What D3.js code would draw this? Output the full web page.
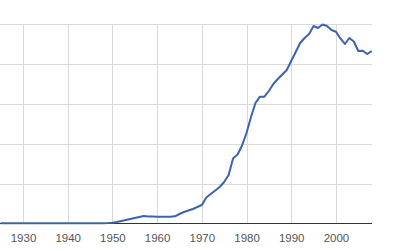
<!DOCTYPE html>
<html><head><meta charset="utf-8">
<script src="https://cdn.jsdelivr.net/npm/d3@7"></script>
<style>html,body{margin:0;padding:0;background:#fff;}svg{display:block;}</style>
</head><body>
<svg id="c" width="400" height="251"></svg>
<script>
const years = d3.range(1925, 2009);
const values = [
 0.004,0.004,0.004,0.004,0.004,0.004,0.004,0.004,0.004,0.004, // 1925-1934
 0.004,0.004,0.004,0.004,0.004,0.004,0.004,0.004,0.004,0.004, // 1935-1944
 0.004,0.005,0.006,0.008,0.012,                               // 1945-1949
 0.02,0.038,0.063,0.088,0.113,0.138,0.163,0.188,0.175,0.173,  // 1950-1959
 0.17,0.17,0.17,0.17,0.18,0.238,0.288,0.326,0.363,0.414,      // 1960-1969
 0.464,0.652,0.739,0.827,0.915,1.04,1.216,1.634,1.729,1.955,  // 1970-1979
 2.268,2.669,3.02,3.178,3.178,3.321,3.496,3.622,3.734,3.847,  // 1980-1989
 4.073,4.298,4.524,4.649,4.749,4.95,4.9,4.987,4.95,4.85,      // 1990-1999
 4.807,4.637,4.499,4.649,4.561,4.323,4.331,4.248,4.323        // 2000-2008
];
const xTicks = [1930,1940,1950,1960,1970,1980,1990,2000];
const yTicks = [0,1,2,3,4,5];

const svg = d3.select('#c');
const x = d3.scaleLinear().domain([1925, 2008]).range([0.65, 371.7]);
const y = d3.scaleLinear().domain([0, 5]).range([223.5, 24]);

// horizontal gridlines
svg.append('g').selectAll('line').data(yTicks.filter(d=>d>0)).join('line')
  .attr('x1', 0).attr('x2', 372)
  .attr('y1', d=>Math.round(y(d))+0.5).attr('y2', d=>Math.round(y(d))+0.5)
  .attr('stroke', '#d9d9d9').attr('stroke-width', 1);
// vertical gridlines
svg.append('g').selectAll('line').data(xTicks).join('line')
  .attr('x1', d=>Math.round(x(d))+0.5).attr('x2', d=>Math.round(x(d))+0.5)
  .attr('y1', y(5)).attr('y2', y(0))
  .attr('stroke', '#d9d9d9').attr('stroke-width', 1);

// x axis
const axis = d3.axisBottom(x).tickValues(xTicks).tickFormat(d3.format('d')).tickSize(0).tickPadding(10);
const ga = svg.append('g').attr('transform', 'translate(0,223.5)').call(axis);
ga.select('.domain').attr('d', 'M0,0H372').attr('stroke', '#333').attr('stroke-width', 1);
ga.selectAll('text').attr('font-family', 'Liberation Sans, Arial, sans-serif').attr('font-size', 11.5).attr('fill', '#555');

// line
const line = d3.line().x((d,i)=>x(years[i])).y(d=>y(d));
svg.append('path').datum(values).attr('d', line)
  .attr('fill', 'none').attr('stroke', '#3b64ad').attr('stroke-width', 2)
  .attr('stroke-linejoin', 'round');
</script>
</body></html>
